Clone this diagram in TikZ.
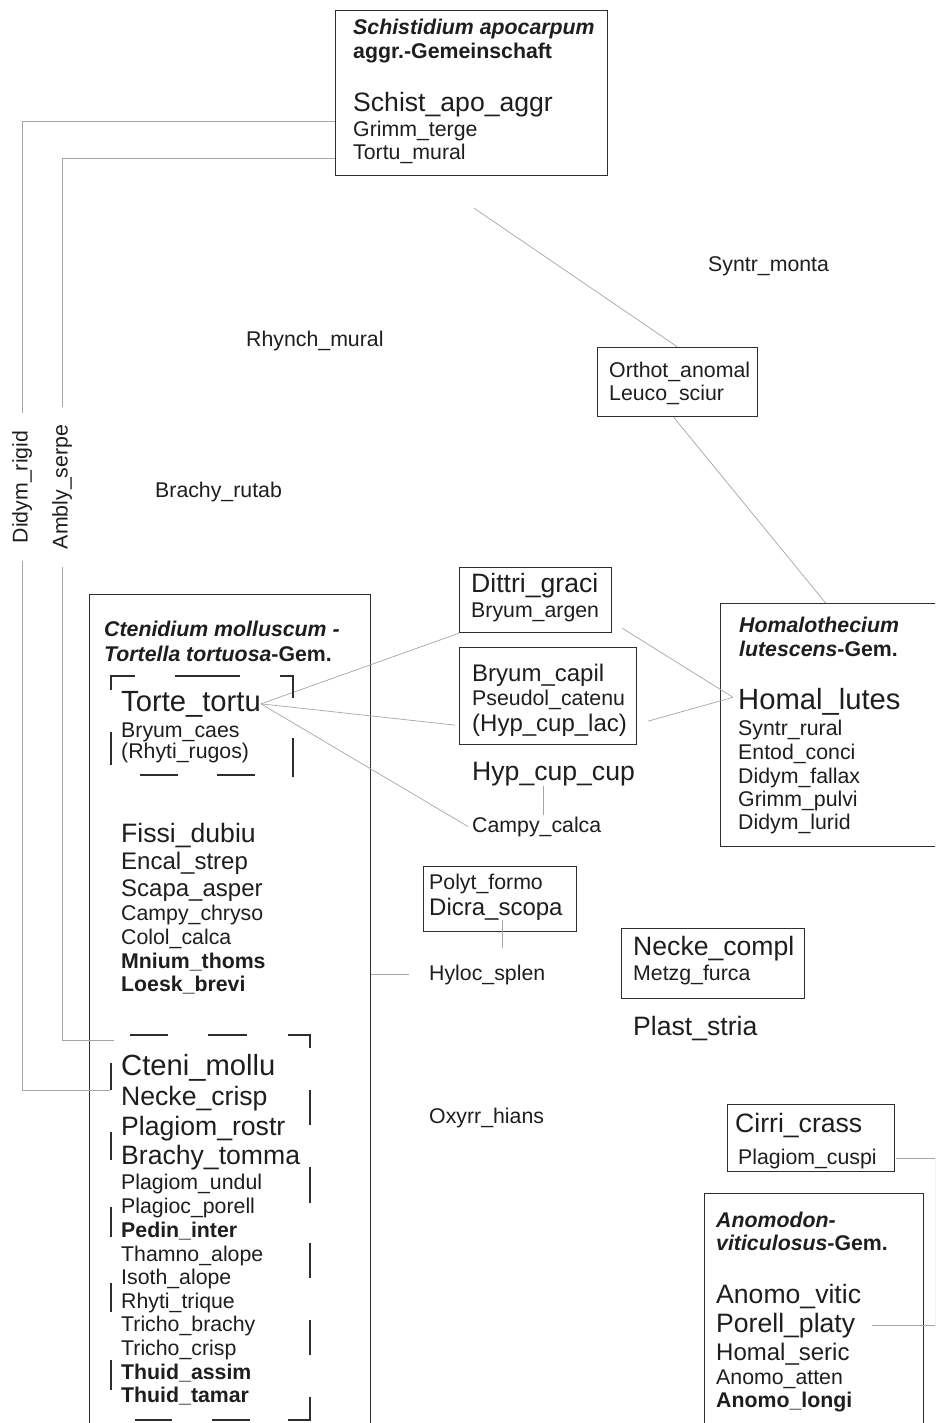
\documentclass[tikz,border=0pt]{standalone}
\usepackage{fontspec}
\setmainfont{Liberation Sans}
\definecolor{txt}{HTML}{1E1E1E}
\definecolor{boxc}{HTML}{2E2E2E}
\definecolor{linkc}{HTML}{A6A6A6}
\newcommand\sps{\fontsize{21.3}{24}\selectfont}
\newcommand\spm{\fontsize{24}{27}\selectfont}
\newcommand\spl{\fontsize{26.6}{30}\selectfont}
\newcommand\spx{\fontsize{29.2}{33}\selectfont}
\tikzset{
  sp/.style={anchor=base west, inner sep=0pt, text=txt, font=\sps},
  spm/.style={sp, font=\spm},
  spl/.style={sp, font=\spl},
  spx/.style={sp, font=\spx},
  hdr/.style={sp, font=\sps\bfseries},
  box/.style={draw=boxc, line width=1.2pt, inner sep=0pt, anchor=north west},
  link/.style={linkc, line width=0.7pt},
  brk/.style={boxc, line width=1.1pt},
  side/.style={font=\sps, text=txt, rotate=90, inner xsep=18pt, inner ysep=0pt},
}
\begin{document}
\begin{tikzpicture}[x=1pt,y=-1pt]
                \useasboundingbox (0,0) rectangle (935,1423);
                \clip (0,0) rectangle (935,1423);
                \fill[white] (0,0) rectangle (935,1423);

                \node[box, minimum width=272pt, minimum height=165pt] (schistbox) at (335,10) {};
                \node[box, minimum width=160pt, minimum height=69pt] (orthbox) at (597,347) {};
                \node[box, minimum width=152pt, minimum height=65pt] (dittbox) at (459,567) {};
                \node[box, minimum width=177pt, minimum height=97pt] (capbox) at (459,647) {};
                \node[box, minimum width=230pt, minimum height=243pt] (homalbox) at (720,603) {};
                \node[box, minimum width=281pt, minimum height=860pt] (ctenbox) at (89,594) {};
                \node[box, minimum width=153pt, minimum height=65pt] (polytbox) at (423,866) {};
                \node[box, minimum width=183pt, minimum height=70pt] (neckbox) at (621,928) {};
                \node[box, minimum width=167pt, minimum height=67pt] (cirribox) at (727,1104) {};
                \node[box, minimum width=219pt, minimum height=260pt] (anombox) at (704,1193) {};

                \node[hdr, font=\sps\bfseries\itshape] (schhead) at (353,35) {Schistidium apocarpum};
                \node[hdr] (schgem) at (353,59) {aggr.-Gemeinschaft};
                \node[spl] (schapo) at (353,112) {Schist\_apo\_aggr};
                \node[sp] (grimter) at (353,137) {Grimm\_terge};
                \node[sp] (tortmur) at (353,160) {Tortu\_mural};

                \node[sp] (syntmon) at (708,272) {Syntr\_monta};
                \node[sp] (rhynmur) at (246,346) {Rhynch\_mural};
                \node[sp] (bracrut) at (155,497) {Brachy\_rutab};
                \node[sp] (orthano) at (609,377) {Orthot\_anomal};
                \node[sp] (leucsci) at (609,400) {Leuco\_sciur};

                \node[side] (didym) at (22,487) {Didym\_rigid};
                \node[side] (ambly) at (62,487) {Ambly\_serpe};

                \node[spl] (dittgra) at (471,592) {Dittri\_graci};
                \node[sp] (bryarg) at (471,617) {Bryum\_argen};
                \node[spm] (brycap) at (472,681) {Bryum\_capil};
                \node[sp] (pseucat) at (472,705) {Pseudol\_catenu};
                \node[spm] (hyplac) at (472,731) {(Hyp\_cup\_lac)};
                \node[spl] (hypcup) at (472,780) {Hyp\_cup\_cup};
                \node[sp] (campy) at (472,832) {Campy\_calca};

                \node[hdr, font=\sps\bfseries\itshape] (homhead) at (739,632) {Homalothecium};
                \node[hdr] (homgem) at (739,656) {\textit{lutescens}-Gem.};
                \node[spx] (homlut) at (738,709) {Homal\_lutes};
                \node[sp] (syntrur) at (738,735) {Syntr\_rural};
                \node[sp] (entcon) at (738,759) {Entod\_conci};
                \node[sp] (didfal) at (738,783) {Didym\_fallax};
                \node[sp] (grimpul) at (738,806) {Grimm\_pulvi};
                \node[sp] (didlur) at (738,829) {Didym\_lurid};

                \node[hdr, font=\sps\bfseries\itshape] (ctenhead) at (104,636) {Ctenidium molluscum -};
                \node[hdr] (ctengem) at (104,661) {\textit{Tortella tortuosa}-Gem.};
                \node[spx] (torte) at (121,711) {Torte\_tortu};
                \node[sp] (brycaes) at (121,737) {Bryum\_caes};
                \node[sp] (rhyrug) at (121,758) {(Rhyti\_rugos)};
                \node[spl] (fissi) at (121,842) {Fissi\_dubiu};
                \node[spm] (encal) at (121,869) {Encal\_strep};
                \node[spm] (scapa) at (121,896) {Scapa\_asper};
                \node[sp] (campchr) at (121,920) {Campy\_chryso};
                \node[sp] (colol) at (121,944) {Colol\_calca};
                \node[sp, font=\sps\bfseries] (mnium) at (121,968) {Mnium\_thoms};
                \node[sp, font=\sps\bfseries] (loesk) at (121,991) {Loesk\_brevi};
                \node[spx] (cteni) at (121,1075) {Cteni\_mollu};
                \node[spl] (neckcri) at (121,1105) {Necke\_crisp};
                \node[spl] (plagros) at (121,1135) {Plagiom\_rostr};
                \node[spl] (bractom) at (121,1164) {Brachy\_tomma};
                \node[sp] (plagund) at (121,1189) {Plagiom\_undul};
                \node[sp] (plagpor) at (121,1213) {Plagioc\_porell};
                \node[sp, font=\sps\bfseries] (pedin) at (121,1237) {Pedin\_inter};
                \node[sp] (thamno) at (121,1261) {Thamno\_alope};
                \node[sp] (isoth) at (121,1284) {Isoth\_alope};
                \node[sp] (rhytri) at (121,1308) {Rhyti\_trique};
                \node[sp] (tribra) at (121,1331) {Tricho\_brachy};
                \node[sp] (tricri) at (121,1355) {Tricho\_crisp};
                \node[sp, font=\sps\bfseries] (thuass) at (121,1379) {Thuid\_assim};
                \node[sp, font=\sps\bfseries] (thutam) at (121,1402) {Thuid\_tamar};

                \node[sp] (polyt) at (429,889) {Polyt\_formo};
                \node[spm] (dicra) at (429,915) {Dicra\_scopa};
                \node[sp] (hyloc) at (429,980) {Hyloc\_splen};
                \node[sp] (oxyrr) at (429,1123) {Oxyrr\_hians};
                \node[spl] (neckcom) at (633,955) {Necke\_compl};
                \node[sp] (metzg) at (633,980) {Metzg\_furca};
                \node[spl] (plast) at (633,1035) {Plast\_stria};

                \node[spl] (cirri) at (735,1132) {Cirri\_crass};
                \node[sp] (plagcus) at (738,1164) {Plagiom\_cuspi};
                \node[hdr, font=\sps\bfseries\itshape] (anomhead) at (716,1227) {Anomodon-};
                \node[hdr] (anomgem) at (716,1250) {\textit{viticulosus}-Gem.};
                \node[spl] (anomvit) at (716,1303) {Anomo\_vitic};
                \node[spl] (porell) at (716,1332) {Porell\_platy};
                \node[spm] (homser) at (716,1360) {Homal\_seric};
                \node[sp] (anomatt) at (716,1384) {Anomo\_atten};
                \node[sp, font=\sps\bfseries] (anomlon) at (716,1407) {Anomo\_longi};

                \coordinate (didymend) at (110,1090);
                \coordinate (amblyend) at (114,1040);

                \draw[link] ([yshift=-28.5pt]schistbox.west) -| (didym.east);
                \draw[link] (didym.west) |- (didymend);
                \draw[link] ([yshift=-65.5pt]schistbox.west) -| (ambly.east);
                \draw[link] (ambly.west) |- (amblyend);
                \draw[link] ([shift={(2.5,32)}]schistbox.south) -- (orthbox.north);
                \draw[link] ([xshift=-4pt]orthbox.south) -- ([xshift=-10pt]homalbox.north);
                \draw[link] (torte.east) -- (dittbox.south west);
                \draw[link] (torte.east) -- ([shift={(-4,29)}]capbox.west);
                \draw[link] (torte.east) -- ([xshift=-4pt]campy.west);
                \draw[link] ([shift={(10,-5)}]dittbox.south east) -- ([shift={(-5,-4)}]homlut.west);
                \draw[link] ([shift={(11,25)}]capbox.east) -- ([shift={(-5,-4)}]homlut.west);
                \draw[link] ([xshift=-10pt]hypcup.south) -- ++(0,29);
                \draw[link] ([xshift=6pt]dicra.south) -- ++(0,28);
                \draw[link] ([xshift=-20pt]hyloc.west) -- (ctenbox.east |- hyloc.west);
                \draw[link] ([xshift=19pt]plagcus.east) -| ([xshift=79.5pt]porell.east) -- ([xshift=17pt]porell.east);

                \draw[brk] (111,690) -- (111,676) -- (135,676) (175,676) -- (240,676) (280,676) -- (293,676) -- (293,698)
                    (293,738) -- (293,777) (255,775) -- (217,775) (178,775) -- (140,775) (111,765) -- (111,732);
                \draw[brk] (130,1035) -- (168,1035) (208,1035) -- (247,1035) (288,1035) -- (310,1035) -- (310,1048)
                    (310,1090) -- (310,1125) (310,1167) -- (310,1203) (310,1243) -- (310,1278) (310,1320) -- (310,1355)
                    (310,1397) -- (310,1420) -- (288,1420) (250,1420) -- (212,1420) (172,1420) -- (135,1420)
                    (111,1390) -- (111,1360) (111,1312) -- (111,1283) (111,1237) -- (111,1207) (111,1160) -- (111,1132)
                    (111,1090) -- (111,1063);
            \end{tikzpicture}
\end{document}
